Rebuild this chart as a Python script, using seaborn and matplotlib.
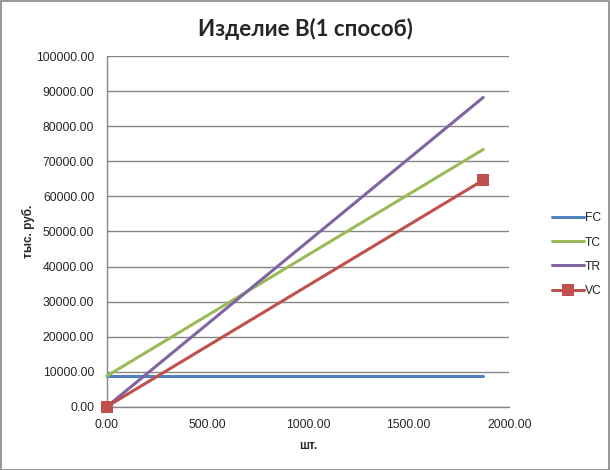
import numpy as np
import pandas as pd
import matplotlib
matplotlib.use("Agg")
import matplotlib.pyplot as plt
from matplotlib.patches import Rectangle
import seaborn as sns

# ── Data ──────────────────────────────────────────────────────────────────────
qty = [0.0, 1870.0]
fc = [8750.0, 8750.0]
vc = [0.0, 64650.0]
tc = [8750.0, 73400.0]
tr = [0.0, 88250.0]

series_names = ["FC", "TC", "TR", "VC"]
series_vals = [fc, tc, tr, vc]
colors = {"FC": "#4F81BD", "TC": "#9BBB59", "TR": "#8064A2", "VC": "#C0504D"}
markers = {"FC": None, "TC": None, "TR": None, "VC": "s"}

x_ticks = [0, 500, 1000, 1500, 2000]
y_ticks = list(range(0, 100001, 10000))

df = pd.DataFrame(
    [(n, x, y) for n, vals in zip(series_names, series_vals) for x, y in zip(qty, vals)],
    columns=["series", "qty", "value"],
)

# ── Plot ──────────────────────────────────────────────────────────────────────
sns.set_style("white")
plt.rcParams["font.family"] = ["Liberation Sans", "DejaVu Sans"]

fig = plt.figure(figsize=(6.1, 4.7), dpi=100)
ax = fig.add_axes([0.175, 0.1347, 0.66, 0.7455])

grid_c = "#868686"
for name in series_names:
    d = df[df["series"] == name]
    sns.lineplot(data=d, x="qty", y="value", ax=ax, color=colors[name],
                 lw=2.2, marker=markers[name], markersize=8,
                 markeredgewidth=0, label=name, clip_on=False, zorder=3)

ax.set_xlim(0, 2000)
ax.set_ylim(0, 100000)
ax.set_xticks(x_ticks)
ax.set_yticks(y_ticks)
ax.set_xticklabels([f"{v:.2f}" for v in x_ticks], fontsize=8.7)
ax.set_yticklabels([f"{v:.2f}" for v in y_ticks], fontsize=8.7)
ax.yaxis.grid(True, color=grid_c, lw=1)
ax.xaxis.grid(False)
for side in ["top", "right"]:
    ax.spines[side].set_visible(False)
for side in ["left", "bottom"]:
    ax.spines[side].set_color(grid_c)
    ax.spines[side].set_linewidth(1)
ax.tick_params(axis="both", length=3, color=grid_c, direction="out", pad=6)
ax.tick_params(axis="x", length=0, pad=9)

ax.set_xlabel("шт.", fontsize=8.5, fontweight="bold", labelpad=6)
ax.set_ylabel("тыс. руб.", fontsize=8.5, fontweight="bold", labelpad=1)
fig.text(0.5, 0.938, "Изделие В(1 способ)", ha="center", va="center",
         fontsize=16, fontweight="bold", family=["Lato", "DejaVu Sans"])

leg = ax.legend(loc="center left", bbox_to_anchor=(1.095, 0.434), frameon=False,
                fontsize=8.7, handlelength=2.6, labelspacing=1.0,
                handletextpad=0.1, borderaxespad=0)

fig.add_artist(Rectangle((0.001, 0.001), 0.997, 0.997, transform=fig.transFigure,
                         fill=False, edgecolor=grid_c, lw=1.2))

fig.savefig("out.png", dpi=100)
plt.close(fig)
